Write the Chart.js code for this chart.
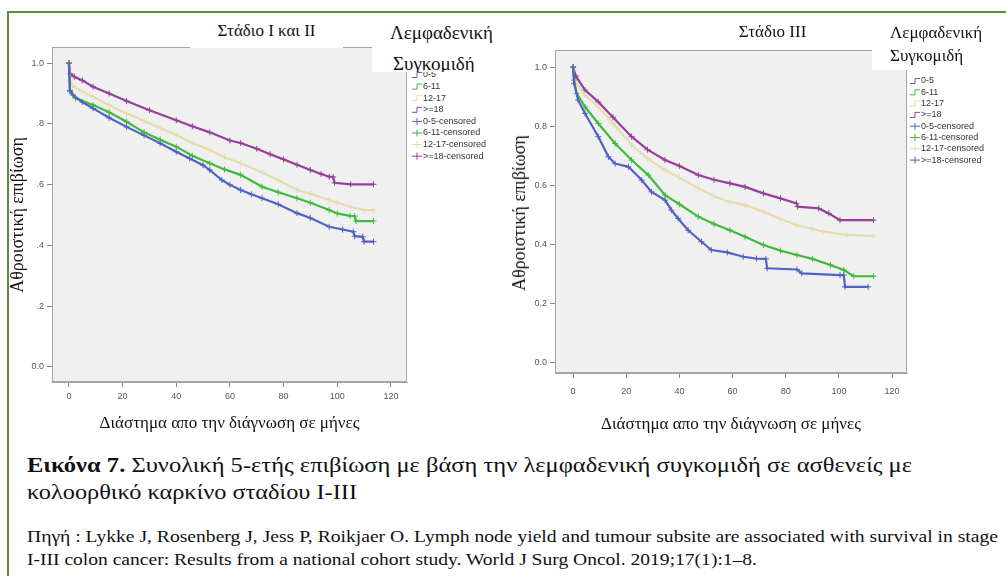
<!DOCTYPE html>
<html><head><meta charset="utf-8">
<script src="https://cdn.jsdelivr.net/npm/chart.js@4/dist/chart.umd.min.js"></script>
<style>
html,body{margin:0;padding:0;background:#fff;width:1006px;height:576px;overflow:hidden;position:relative;}
#frame{position:absolute;left:7px;top:11px;width:1010px;height:580px;border-left:2px solid #5b8c3a;border-top:2px solid #5b8c3a;}
canvas{position:absolute;top:0;}
.t{position:absolute;font-family:"Liberation Serif","Times New Roman",serif;color:#111;white-space:nowrap;}
.box{position:absolute;background:#fff;}
</style>
</head><body>
<div id="frame"></div>
<canvas id="c1" width="510" height="440" style="left:0px"></canvas>
<canvas id="c2" width="501" height="440" style="left:505px"></canvas>

<div class="box" style="left:190px;top:14px;width:153px;height:34px;"></div>
<div class="t" style="left:190px;top:20px;width:153px;text-align:center;font-size:17px;line-height:22px;">Στάδιο I και II</div>
<div class="box" style="left:372px;top:18px;width:138px;height:54px;overflow:hidden;">
  <div class="t" style="left:18px;top:4px;font-size:19px;line-height:22px;">Λεμφαδενική</div>
  <div class="t" style="left:21px;top:35px;font-size:19px;line-height:22px;">Συγκομιδή</div>
</div>

<div class="box" style="left:712px;top:14px;width:121px;height:36px;"></div>
<div class="t" style="left:712px;top:21px;width:121px;text-align:center;font-size:17px;line-height:22px;">Στάδιο III</div>
<div class="box" style="left:872px;top:18px;width:134px;height:52px;"></div>
<div class="t" style="left:890px;top:22px;font-size:17px;line-height:22px;">Λεμφαδενική</div>
<div class="t" style="left:890px;top:45px;font-size:17px;line-height:22px;">Συγκομιδή</div>

<div class="box" style="left:9px;top:108px;width:28px;height:215px;"></div>
<div class="t" style="left:17px;top:215px;font-size:18px;line-height:20px;transform:translate(-50%,-50%) rotate(-90deg);">Αθροιστική επιβίωση</div>
<div class="t" style="left:519px;top:213px;font-size:18px;line-height:20px;transform:translate(-50%,-50%) rotate(-90deg);">Αθροιστική επιβίωση</div>

<div class="t fit" data-w="885" style="left:27px;top:452px;font-size:22px;line-height:26px;"><b>Εικόνα 7.</b> Συνολική 5-ετής επιβίωση με βάση την λεμφαδενική συγκομιδή σε ασθενείς με</div>
<div class="t fit" data-w="330" style="left:27px;top:479px;font-size:22px;line-height:26px;">κολοορθικό καρκίνο σταδίου I-III</div>
<div class="t fit" data-w="971" style="left:27px;top:527px;font-size:17px;line-height:20px;">Πηγή : Lykke J, Rosenberg J, Jess P, Roikjaer O. Lymph node yield and tumour subsite are associated with survival in stage</div>
<div class="t fit" data-w="730" style="left:27px;top:550px;font-size:17px;line-height:20px;">I-III colon cancer: Results from a national cohort study. World J Surg Oncol. 2019;17(1):1–8.</div>

<script>
// ---------- DATA ----------
const groups = ['0-5', '6-11', '12-17', '>=18'];
const groupColors = ['#5162c4', '#3dbb3d', '#e6dcae', '#94409a'];
const xTickValues = [0, 20, 40, 60, 80, 100, 120];
const yTickValues = [0.0, 0.2, 0.4, 0.6, 0.8, 1.0];
const xTitle = 'Διάστημα απο την διάγνωση σε μήνες';

// Stage I & II (months, cumulative survival)
const s12_t_0_5 = [0, 0.4, 1.5, 5, 9, 15, 21.5, 28, 34, 40, 45, 50, 52.5, 57, 60, 64, 68, 72, 78, 85, 90, 97, 102, 106, 106.5, 109.5, 110, 113.5];
const s12_s_0_5 = [1.0, 0.91, 0.895, 0.872, 0.851, 0.82, 0.79, 0.762, 0.736, 0.708, 0.686, 0.664, 0.648, 0.615, 0.599, 0.582, 0.568, 0.555, 0.535, 0.506, 0.49, 0.461, 0.452, 0.445, 0.43, 0.428, 0.412, 0.412];
const s12_t_6_11 = [0, 0.4, 2.5, 9, 15, 21.5, 28, 34, 40, 46, 52.5, 58, 64, 72, 78, 85, 90, 97, 100, 104.8, 106.5, 107, 113.5];
const s12_s_6_11 = [1.0, 0.906, 0.884, 0.862, 0.838, 0.807, 0.772, 0.748, 0.725, 0.695, 0.670, 0.650, 0.632, 0.593, 0.575, 0.555, 0.54, 0.516, 0.505, 0.497, 0.496, 0.48, 0.48];
const s12_t_12_17 = [0, 0.4, 1.5, 9, 15, 21.5, 28, 34, 40, 46, 52.5, 58, 64, 72, 78, 85, 90, 97, 100, 105, 110, 113.5];
const s12_s_12_17 = [1.0, 0.944, 0.922, 0.889, 0.862, 0.834, 0.81, 0.786, 0.763, 0.737, 0.714, 0.69, 0.67, 0.64, 0.615, 0.582, 0.57, 0.549, 0.54, 0.527, 0.516, 0.516];
const s12_t_18 = [0, 0.5, 2, 5, 9, 15, 21.5, 30, 40, 46, 52.5, 60, 64, 70, 75, 80, 85, 90, 94, 97, 98.5, 99, 105, 113.5];
const s12_s_18 = [1.0, 0.965, 0.955, 0.943, 0.922, 0.9, 0.875, 0.845, 0.812, 0.792, 0.772, 0.745, 0.737, 0.718, 0.70, 0.683, 0.665, 0.648, 0.635, 0.626, 0.625, 0.606, 0.601, 0.601];

// Stage III (months, cumulative survival)
const s3_t_0_5 = [0, 0.4, 1.9, 4.5, 9.5, 13.3, 15.8, 20.8, 25.8, 29.5, 34.6, 37, 39.5, 43.3, 48.3, 52, 58, 64, 69, 72.5, 73, 84.2, 86, 100.4, 101.8, 102.3, 111];
const s3_s_0_5 = [1.0, 0.945, 0.888, 0.843, 0.764, 0.696, 0.673, 0.662, 0.617, 0.577, 0.549, 0.515, 0.487, 0.447, 0.408, 0.38, 0.372, 0.357, 0.351, 0.35, 0.318, 0.314, 0.301, 0.295, 0.295, 0.255, 0.255];
const s3_t_6_11 = [0, 0.4, 1.3, 4.5, 9.5, 15.8, 22, 28.3, 34.6, 40, 47.1, 53, 59, 64.7, 71.6, 78, 84.2, 90, 96.8, 101.8, 105.6, 113];
const s3_s_6_11 = [1.0, 0.956, 0.911, 0.865, 0.809, 0.741, 0.685, 0.634, 0.566, 0.535, 0.493, 0.468, 0.447, 0.425, 0.397, 0.378, 0.363, 0.35, 0.329, 0.312, 0.291, 0.291];
const s3_t_12_17 = [0, 0.4, 4.5, 9.5, 15, 22, 28, 34.6, 40, 47.1, 53, 59, 64.7, 71.6, 78, 84.2, 90, 94.3, 103, 113];
const s3_s_12_17 = [1.0, 0.956, 0.905, 0.865, 0.81, 0.736, 0.69, 0.651, 0.625, 0.589, 0.562, 0.543, 0.532, 0.51, 0.485, 0.464, 0.452, 0.442, 0.431, 0.427];
const s3_t_18 = [0, 1, 4.5, 9.5, 15, 22, 28, 34.6, 40, 47.1, 53, 59, 64.7, 71.6, 78, 84, 84.5, 92.4, 96.2, 100.4, 113];
const s3_s_18 = [1.0, 0.97, 0.922, 0.882, 0.83, 0.764, 0.72, 0.685, 0.665, 0.634, 0.618, 0.606, 0.594, 0.572, 0.555, 0.538, 0.527, 0.521, 0.504, 0.481, 0.481];

// ---------- CHART ----------
function pts(t, s) { return t.map((m, i) => ({ x: m, y: s[i] })); }

function buildDatasets(series) {
  const lines = series.map((sr, i) => ({
    label: groups[i], data: pts(sr[0], sr[1]), showLine: true,
    borderColor: groupColors[i], backgroundColor: groupColors[i],
    borderWidth: 2.2, pointRadius: 0, tension: 0, censored: false
  }));
  const cens = series.map((sr, i) => ({
    label: groups[i] + '-censored', data: pts(sr[0], sr[1]), showLine: false,
    borderColor: groupColors[i], backgroundColor: groupColors[i],
    pointStyle: 'cross', pointRadius: 3, borderWidth: 1, censored: true
  }));
  return lines.concat(cens);
}

const plotFrame = {
  id: 'plotFrame',
  beforeDraw(chart) {
    const { ctx, chartArea: a } = chart;
    ctx.save(); ctx.fillStyle = '#f0f0f0';
    ctx.fillRect(a.left, a.top, a.right - a.left, a.bottom - a.top);
    ctx.restore();
  },
  beforeDatasetsDraw(chart) {
    const { ctx, chartArea: a } = chart;
    ctx.save(); ctx.strokeStyle = '#a5a5a5'; ctx.lineWidth = 1;
    ctx.strokeRect(Math.round(a.left) + 0.5, Math.round(a.top) + 0.5, Math.round(a.right - a.left) - 1, Math.round(a.bottom - a.top) - 1);
    ctx.restore();
  }
};

const kmLegend = {
  id: 'kmLegend',
  afterDraw(chart, args, opts) {
    const ctx = chart.ctx;
    const x0 = chart.chartArea.right + opts.dx;
    ctx.save();
    ctx.font = '9px "Liberation Sans", Arial, sans-serif';
    ctx.textBaseline = 'middle';
    chart.data.datasets.forEach((ds, i) => {
      const y = opts.y0 + i * opts.step;
      ctx.strokeStyle = ds.borderColor; ctx.lineWidth = 1;
      ctx.beginPath();
      if (!ds.censored) {
        ctx.moveTo(x0, y + 2.5); ctx.lineTo(x0 + 5, y + 2.5); ctx.lineTo(x0 + 5, y - 2.5); ctx.lineTo(x0 + 10, y - 2.5);
      } else {
        ctx.moveTo(x0, y); ctx.lineTo(x0 + 10, y); ctx.moveTo(x0 + 5, y - 3.5); ctx.lineTo(x0 + 5, y + 3.5);
      }
      ctx.stroke();
      ctx.fillStyle = '#333';
      ctx.fillText(ds.label, x0 + 11, y);
    });
    ctx.restore();
  }
};

function makeChart(id, series, cfg) {
  return new Chart(document.getElementById(id), {
    type: 'scatter',
    data: { datasets: buildDatasets(series) },
    plugins: [plotFrame, kmLegend],
    options: {
      responsive: false, animation: false, devicePixelRatio: 1,
      layout: { padding: { left: 0, top: cfg.top, right: cfg.right, bottom: 0 } },
      plugins: { legend: { display: false }, tooltip: { enabled: false },
        kmLegend: { dx: cfg.legDx, y0: cfg.legY0, step: cfg.legStep } },
      scales: {
        x: {
          type: 'linear', min: cfg.xMin, max: cfg.xMax,
          afterBuildTicks: s => { s.ticks = xTickValues.map(v => ({ value: v })); },
          afterFit: s => { s.height = cfg.xH; },
          ticks: { color: '#555', font: { size: 9, family: '"Liberation Sans", Arial' }, padding: cfg.xPad, maxRotation: 0, autoSkip: false, callback: v => String(v) },
          grid: { drawOnChartArea: false, tickLength: 5, color: '#888' },
          border: { display: true, color: '#a5a5a5' },
          title: { display: true, text: xTitle, color: '#111', font: { family: '"Liberation Serif", serif', size: 17 }, padding: { top: 0, bottom: cfg.titlePad } }
        },
        y: {
          type: 'linear', min: cfg.yMin, max: cfg.yMax,
          afterBuildTicks: s => { s.ticks = yTickValues.map(v => ({ value: v })); },
          afterFit: s => { s.width = cfg.yW; },
          ticks: { color: '#555', font: { size: 9, family: '"Liberation Sans", Arial' }, padding: 3, callback: v => Number(v).toFixed(1) },
          grid: { drawOnChartArea: false, tickLength: 5, color: '#888' },
          border: { display: true, color: '#a5a5a5' }
        }
      }
    }
  });
}

makeChart('c1', [[s12_t_0_5, s12_s_0_5], [s12_t_6_11, s12_s_6_11], [s12_t_12_17, s12_s_12_17], [s12_t_18, s12_s_18]],
  { top: 47, right: 103, yW: 52, xH: 58, xMin: -6.3, xMax: 126, yMin: -0.05, yMax: 1.053, xPad: 4, titlePad: 6, legDx: 5, legY0: 75, legStep: 11.6 });
makeChart('c2', [[s3_t_0_5, s3_s_0_5], [s3_t_6_11, s3_s_6_11], [s3_t_12_17, s3_s_12_17], [s3_t_18, s3_s_18]],
  { top: 50, right: 99, yW: 50, xH: 67, xMin: -6.8, xMax: 125.6, yMin: -0.037, yMax: 1.058, xPad: 8, titlePad: 5, legDx: 3, legY0: 81, legStep: 11.3 });

// fit caption lines to the reference widths
document.querySelectorAll('.fit').forEach(el => {
  const w = el.getBoundingClientRect().width;
  el.style.transformOrigin = '0 0';
  el.style.transform = 'scaleX(' + (Number(el.dataset.w) / w) + ')';
});
</script>
</body></html>
